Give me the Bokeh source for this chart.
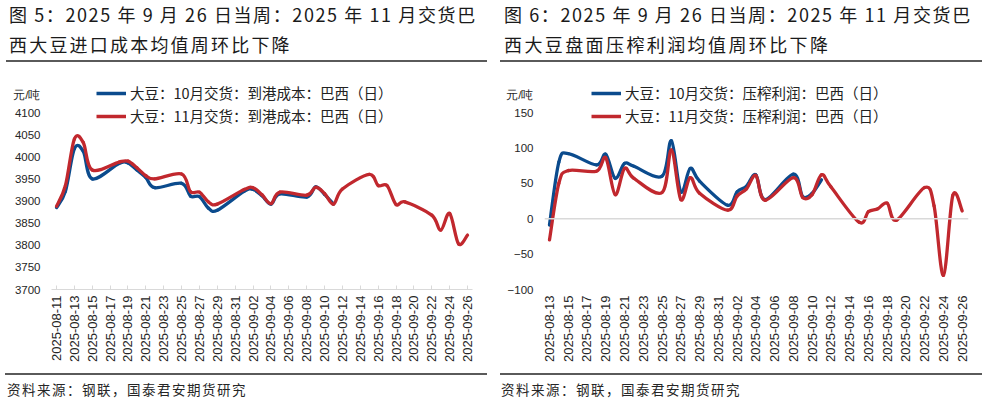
import numpy as np
import pandas as pd
from bokeh.plotting import figure
from bokeh.models import FixedTicker, Legend, LegendItem, Span, Div, Range1d
from bokeh.layouts import row, column
from bokeh.embed import file_html
from bokeh.resources import INLINE

# ---------------- data ----------------
left_dates = [
    "2025-08-11", "2025-08-12", "2025-08-13", "2025-08-14", "2025-08-15",
    "2025-08-18", "2025-08-19", "2025-08-20", "2025-08-21", "2025-08-22",
    "2025-08-25", "2025-08-26", "2025-08-27", "2025-08-28", "2025-08-29",
    "2025-09-01", "2025-09-02", "2025-09-03", "2025-09-04", "2025-09-05",
    "2025-09-08", "2025-09-09", "2025-09-10", "2025-09-11", "2025-09-12",
    "2025-09-15", "2025-09-16", "2025-09-17", "2025-09-18", "2025-09-19",
    "2025-09-22", "2025-09-23", "2025-09-24", "2025-09-25", "2025-09-26",
]
left_oct = [3885, 3922, 4018, 4012, 3950, 3985, 3986, 3970, 3953, 3930,
            3940, 3911, 3910, 3884, 3879, 3922, 3926, 3912, 3893, 3916,
            3909, 3932, 3915, 3893]
left_nov = [3888, 3935, 4040, 4032, 3970, 3988, 3990, 3975, 3957, 3950,
            3961, 3921, 3920, 3898, 3893, 3926, 3930, 3914, 3894, 3920,
            3913, 3931, 3917, 3893, 3927, 3960, 3935, 3935, 3892, 3898,
            3868, 3834, 3872, 3803, 3823]
left_ticks = [
    "2025-08-11", "2025-08-13", "2025-08-15", "2025-08-17", "2025-08-19",
    "2025-08-21", "2025-08-23", "2025-08-25", "2025-08-27", "2025-08-29",
    "2025-08-31", "2025-09-02", "2025-09-04", "2025-09-06", "2025-09-08",
    "2025-09-10", "2025-09-12", "2025-09-14", "2025-09-16", "2025-09-18",
    "2025-09-20", "2025-09-22", "2025-09-24", "2025-09-26",
]
left_yticks = [3700, 3750, 3800, 3850, 3900, 3950, 4000, 4050, 4100]

right_dates = left_dates[2:]
right_oct = [-9, 80, 92, 76, 91, 57, 78, 74, 60, 110, 38, 71, 53,
             19, 38, 46, 62, 27, 63, 31, 36, 55]
right_nov = [-30, 50, 68, 67, 86, 34, 71, 57, 37, 97, 27, 58, 36,
             12, 32, 42, 61, 26, 58, 30, 34, 62, 45, -5, 10, 14, 22, -2,
             44, 18, -80, 33, 11]
right_ticks = left_ticks[1:]
right_yticks = [-100, -50, 0, 50, 100, 150]

left_title = ["图 5：2025 年 9 月 26 日当周：2025 年 11 月交货巴", "西大豆进口成本均值周环比下降"]
right_title = ["图 6：2025 年 9 月 26 日当周：2025 年 11 月交货巴", "西大豆盘面压榨利润均值周环比下降"]
left_series = ["大豆：10月交货：到港成本：巴西（日）", "大豆：11月交货：到港成本：巴西（日）"]
right_series = ["大豆：10月交货：压榨利润：巴西（日）", "大豆：11月交货：压榨利润：巴西（日）"]
source_text = "资料来源：钢联，国泰君安期货研究"
unit_text = "元/吨"

BLUE = "#0B4B8D"
RED = "#C1282E"
CJK = "Noto Sans CJK SC"
LATIN = "Liberation Sans"

FRAME_TOP_PX = 80      # frame top (page px)
AXIS_TOP_PX = 112      # where the highest tick sits
AXIS_BOT_PX = 289      # frame bottom
UNIT_PX = 94           # centre of the unit label


def day_offsets(dates, origin):
    o = pd.Timestamp(origin)
    return np.array([(pd.Timestamp(d) - o).days for d in dates], dtype=float)


def smooth(p, xs, ys, color):
    xs = np.asarray(xs, dtype=float)
    ys = np.asarray(ys, dtype=float)
    n = len(xs)
    xp = np.concatenate([[xs[0]], xs, [xs[-1]]])
    yp = np.concatenate([[ys[0]], ys, [ys[-1]]])
    cx0 = xs[:-1] + (xs[1:] - xp[:n - 1]) / 6
    cy0 = ys[:-1] + (ys[1:] - yp[:n - 1]) / 6
    cx1 = xs[1:] - (xp[3:n + 2] - xs[:-1]) / 6
    cy1 = ys[1:] - (yp[3:n + 2] - ys[:-1]) / 6
    return p.bezier(x0=xs[:-1], y0=ys[:-1], x1=xs[1:], y1=ys[1:],
                    cx0=cx0, cy0=cy0, cx1=cx1, cy1=cy1,
                    line_color=color, line_width=3.3, line_cap="round")


def make_panel(dates, s_oct, s_nov, ticks, yticks, xr, width, mb_left, mb_right,
               series, legend_x, bottom_axis_line, zero_line):
    origin = ticks[0]
    ylo, yhi = yticks[0], yticks[-1]
    per_px = (yhi - ylo) / (AXIS_BOT_PX - AXIS_TOP_PX)
    ytop = yhi + (AXIS_TOP_PX - FRAME_TOP_PX) * per_px
    unit_val = yhi + (AXIS_TOP_PX - UNIT_PX) * per_px

    p = figure(width=width, height=305, x_range=Range1d(*xr), y_range=Range1d(ylo, ytop),
               output_backend="svg", toolbar_location=None,
               min_border_left=mb_left, min_border_right=mb_right,
               min_border_top=FRAME_TOP_PX - 63, min_border_bottom=368 - AXIS_BOT_PX, margin=0)
    p.outline_line_color = None
    p.xgrid.visible = False
    p.ygrid.visible = False

    tick_pos = day_offsets(ticks, origin)
    p.xaxis.ticker = FixedTicker(ticks=list(tick_pos))
    p.xaxis.major_label_overrides = {float(t): lab for t, lab in zip(tick_pos, ticks)}
    p.xaxis.major_label_orientation = np.pi / 2
    p.xaxis.major_label_text_font = LATIN
    p.xaxis.major_label_text_font_size = "13px"
    p.xaxis.major_label_text_color = "#262626"
    p.xaxis.major_label_standoff = 6
    p.xaxis.minor_tick_line_color = None
    p.xaxis.major_tick_out = 0
    if bottom_axis_line:
        p.xaxis.axis_line_color = "#D9D9D9"
        p.xaxis.major_tick_line_color = "#D9D9D9"
        p.xaxis.major_tick_in = 4
    else:
        p.xaxis.axis_line_color = None
        p.xaxis.major_tick_line_color = None
        p.xaxis.major_tick_in = 0

    p.yaxis.ticker = FixedTicker(ticks=list(yticks) + [unit_val])
    p.yaxis.major_label_overrides = {float(unit_val): unit_text}
    p.yaxis.axis_line_color = None
    p.yaxis.major_tick_line_color = None
    p.yaxis.minor_tick_line_color = None
    p.yaxis.major_tick_out = 0
    p.yaxis.major_tick_in = 0
    p.yaxis.major_label_text_font = LATIN
    p.yaxis.major_label_text_font_size = "11.5px"
    p.yaxis.major_label_text_color = "#262626"
    p.yaxis.major_label_standoff = 11

    if zero_line:
        p.add_layout(Span(location=0, dimension="width", line_color="#D9D9D9", line_width=1.5))

    x = day_offsets(dates, origin)
    smooth(p, x[:len(s_oct)], s_oct, BLUE)
    smooth(p, x[:len(s_nov)], s_nov, RED)

    r1 = p.line(x=[np.nan], y=[np.nan], line_color=BLUE, line_width=3.5)
    r2 = p.line(x=[np.nan], y=[np.nan], line_color=RED, line_width=3.5)
    leg = Legend(items=[LegendItem(label=series[0], renderers=[r1]),
                        LegendItem(label=series[1], renderers=[r2])],
                 location=(legend_x, 163), orientation="vertical",
                 glyph_width=30, glyph_height=20, label_height=20, spacing=2,
                 padding=0, margin=0, label_standoff=4,
                 background_fill_alpha=0, border_line_color=None,
                 label_text_font=CJK, label_text_font_size="14.5px",
                 label_text_color="#222222")
    p.add_layout(leg)
    return p


def title_div(lines, width, pad, rule_left, rule_w, ls2):
    font = f"font-family:'{CJK}';font-size:18px;color:#1a1a1a;white-space:nowrap;"
    html = (
        f'<div style="position:relative;width:{width}px;height:63px;">'
        f'<div style="position:absolute;left:{pad}px;top:-1px;line-height:30px;{font}letter-spacing:1.6px;">{lines[0]}</div>'
        f'<div style="position:absolute;left:{pad}px;top:29px;line-height:30px;{font}letter-spacing:{ls2}px;">{lines[1]}</div>'
        f'<div style="position:absolute;left:{rule_left}px;top:60px;width:{rule_w}px;height:0;'
        f'border-top:2px solid #5a5a5a;"></div></div>'
    )
    return Div(text=html, width=width, height=63, margin=0)


def source_div(width, pad, rule_left, rule_w):
    html = (
        f'<div style="position:relative;width:{width}px;height:39px;">'
        f'<div style="position:absolute;left:{rule_left}px;top:5px;width:{rule_w}px;height:0;'
        f'border-top:2px solid #5a5a5a;"></div>'
        f'<div style="position:absolute;left:{pad}px;top:11px;font-family:\'{CJK}\';font-size:13.5px;'
        f'line-height:20px;letter-spacing:1.5px;color:#262626;white-space:nowrap;">{source_text}</div></div>'
    )
    return Div(text=html, width=width, height=39, margin=0)


p1 = make_panel(left_dates, left_oct, left_nov, left_ticks, left_yticks,
                (-0.56, 46.56), 500, 51, 28, left_series, 45, True, False)
p2 = make_panel(right_dates, right_oct, right_nov, right_ticks, right_yticks,
                (-0.53, 44.67), 488, 44, 20, right_series, 47, False, True)

layout = row(
    column(title_div(left_title, 500, 9, 6, 481, 2.2), p1, source_div(500, 7, 5, 482), spacing=0),
    column(title_div(right_title, 488, 4, 0, 482, 2.4), p2, source_div(488, 1, 0, 482), spacing=0),
    spacing=0,
)

open("out.html", "w").write(file_html(layout, INLINE))
